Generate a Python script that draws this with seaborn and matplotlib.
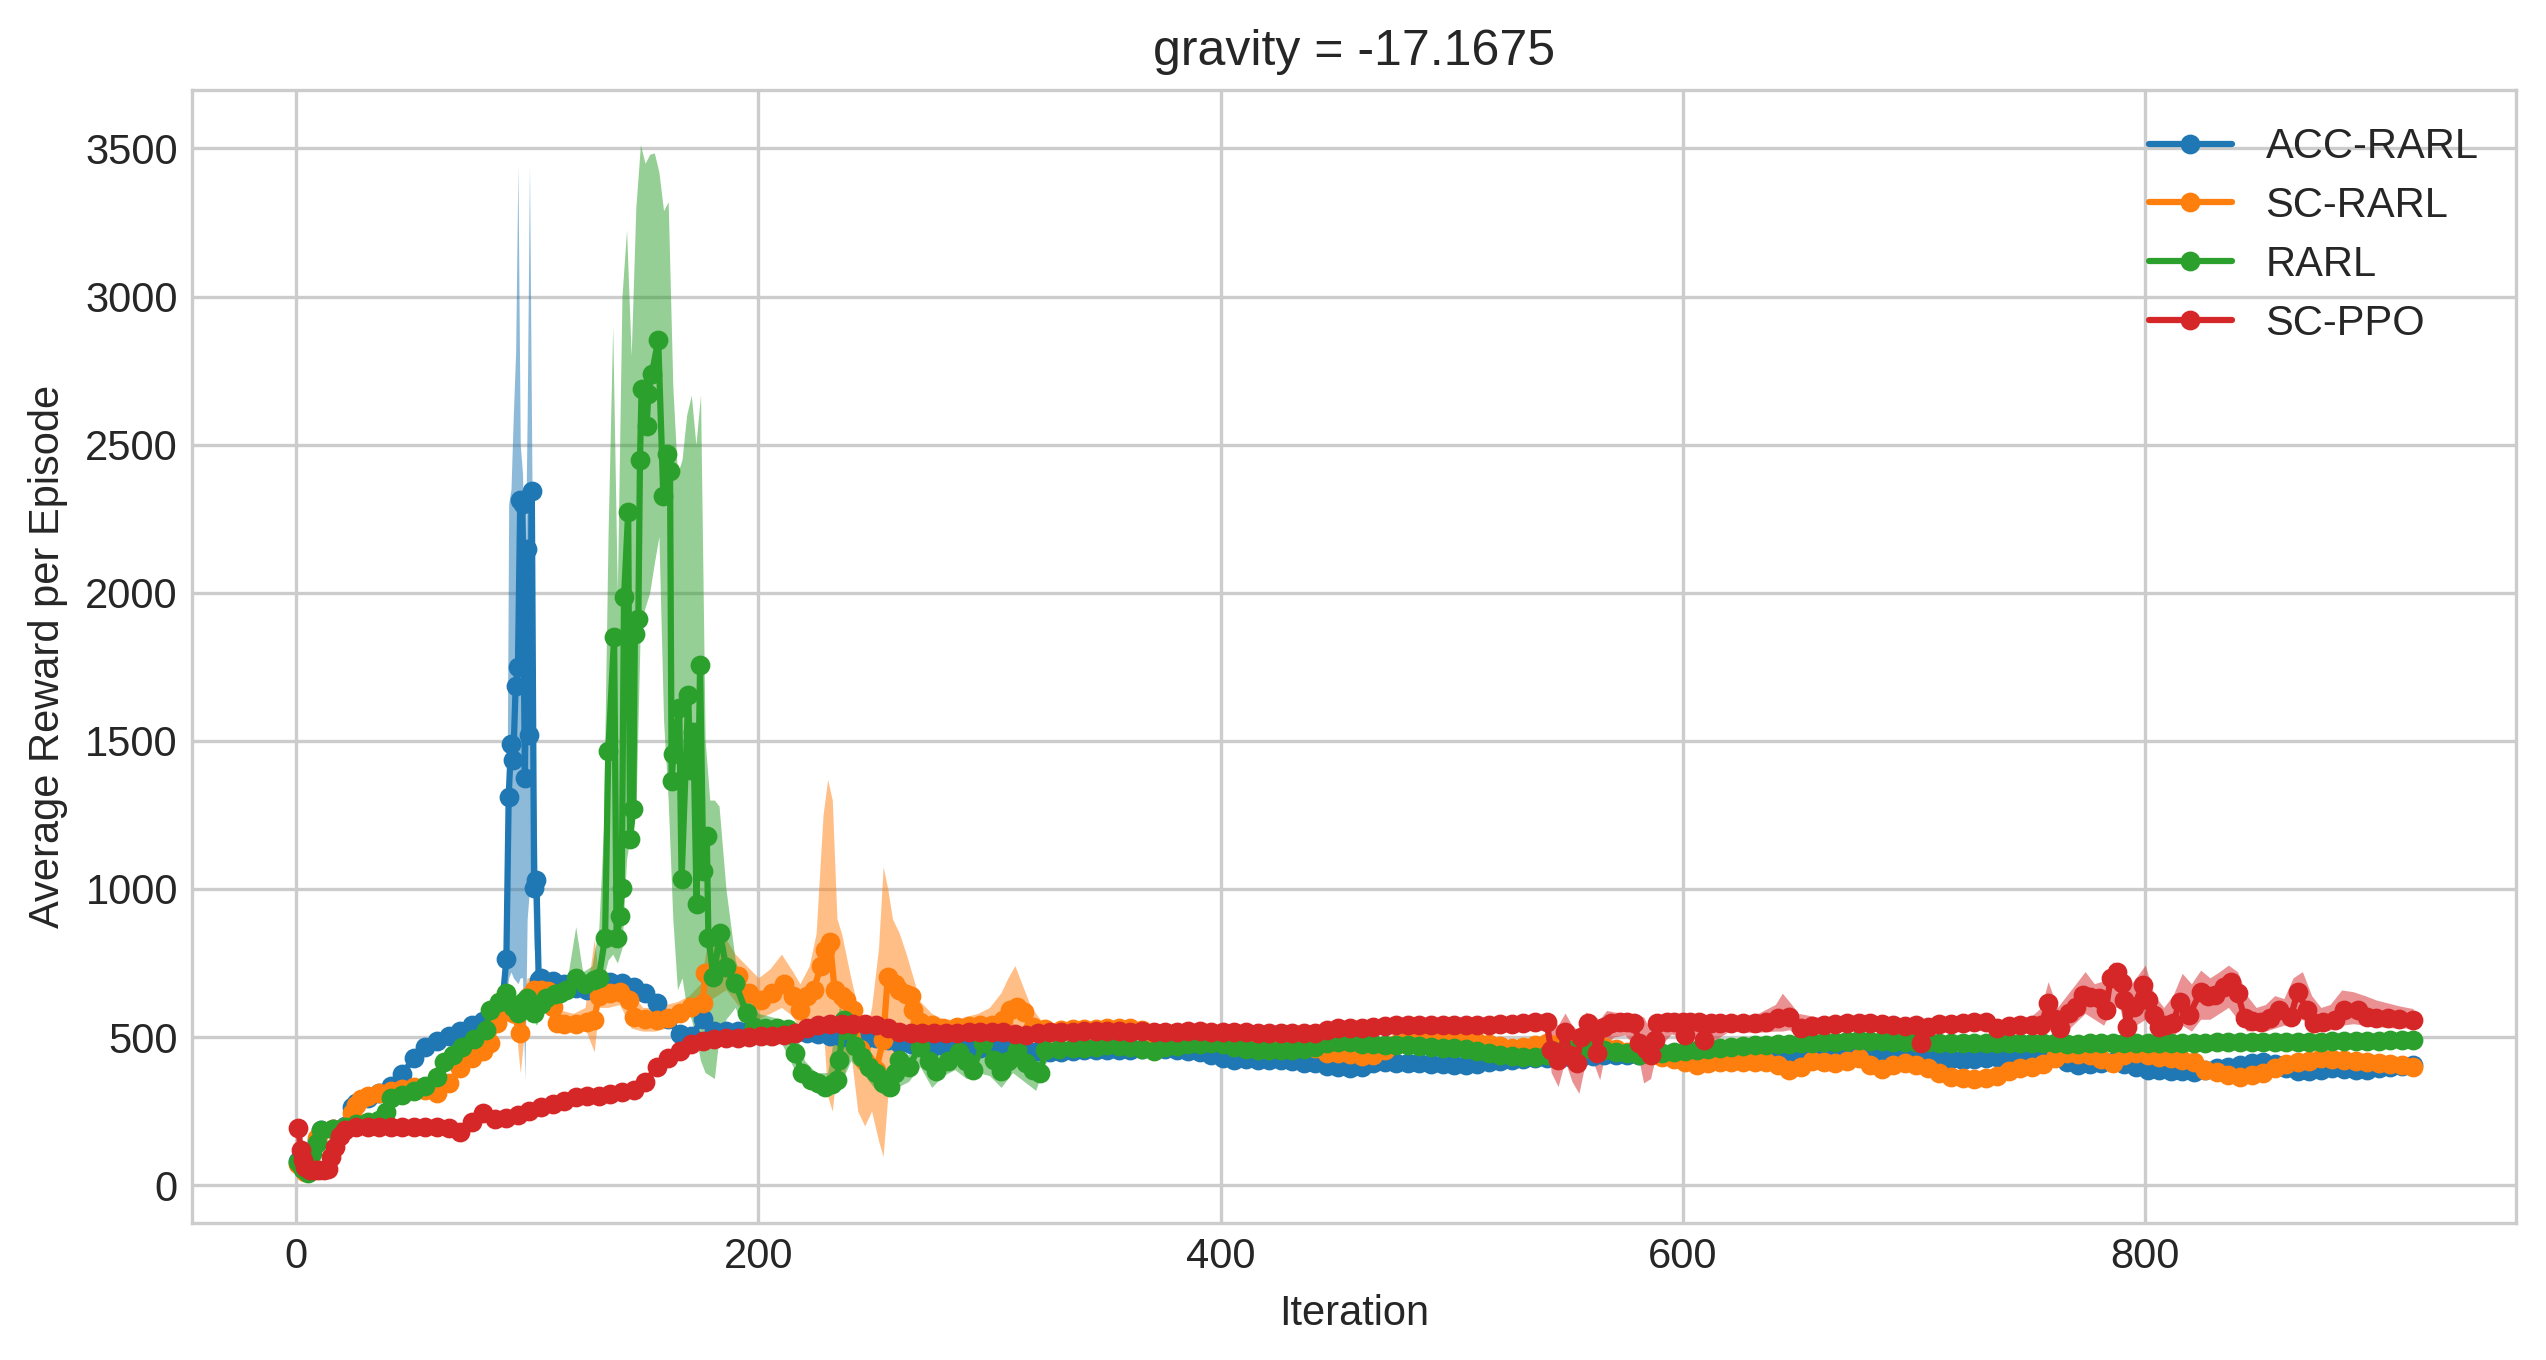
import numpy as np
import matplotlib
matplotlib.use("Agg")
import matplotlib.pyplot as plt
import seaborn as sns

sns.set_style("whitegrid")
plt.rcParams["font.family"] = ["Liberation Sans", "DejaVu Sans"]

TITLE = "gravity = -17.1675"
LABELS = ["ACC-RARL", "SC-RARL", "RARL", "SC-PPO"]

# ---------------- ACC-RARL ----------------
acc_x_early = [1, 3, 6, 9, 11, 16, 21, 24, 26, 31, 36, 41, 46, 51, 56, 61, 66, 71, 76, 81, 86, 89,
               91, 92, 93, 94, 95, 96, 97, 98, 99, 100, 101, 102, 103, 104, 105]
acc_y_early = [80, 55, 110, 150, 185, 190, 200, 265, 278, 295, 310, 335, 375, 430, 465, 485, 505, 520, 540, 555, 570, 590,
               764, 1312, 1488, 1435, 1684, 1750, 2314, 2300, 1374, 2149, 1520, 2345, 1002, 1030, 691]
# every 5 iterations from 106 to 916
acc_y_rest = [700, 690, 680, 665, 660, 675, 685, 682, 670, 648,
              615, 560, 510, 505, 560, 522, 520, 520, 522, 524,
              520, 518, 515, 513, 510, 505, 500, 492, 492, 496,
              490, 480, 475, 473, 470, 468, 465, 463, 462, 462,
              460, 458, 455, 452, 451, 451, 452, 455, 456, 456,
              455, 455, 458, 462, 460, 455, 452, 451, 440, 428,
              423, 425, 422, 424, 423, 418, 412, 411, 402, 398,
              394, 398, 412, 417, 414, 411, 411, 409, 408, 406,
              406, 410, 415, 420, 423, 426, 428, 430, 432, 434,
              434, 436, 440, 440, 440, 441, 442, 442, 443, 444,
              445, 444, 442, 440, 440, 438, 436, 435, 434, 434,
              438, 443, 445, 444, 442, 440, 440, 439, 438, 436,
              434, 430, 426, 422, 425, 430, 432, 428, 432, 438,
              440, 438, 415, 406, 410, 413, 417, 410, 400, 390,
              388, 386, 384, 383, 388, 395, 400, 405, 412, 417,
              410, 395, 384, 386, 390, 394, 392, 390, 389, 395,
              400, 403, 405]
acc_band_x = [88, 90, 91, 92, 93, 94, 95, 96, 97, 98, 99, 100, 101, 102, 103, 104, 105, 106, 108]
acc_band_lo = [560, 570, 640, 700, 720, 700, 690, 680, 700, 700, 355, 900, 1000, 1100, 800, 750, 660, 680, 680]
acc_band_hi = [580, 610, 900, 2300, 2350, 2600, 2810, 3441, 2500, 2400, 2000, 2600, 3441, 2450, 1500, 1200, 720, 720, 700]

# ---------------- SC-RARL ----------------
sc_x_early = [1, 4, 6, 9, 11, 16, 21, 24, 26, 28, 31, 36, 41, 46, 51, 56, 61, 66, 71, 76,
              81, 84, 87, 89, 91, 94, 97, 99, 101, 103, 106, 109, 111, 113, 116, 121, 126, 129, 131, 136,
              140, 144, 146, 151, 156, 161, 166, 171, 176, 177, 181, 186, 191, 196, 201, 206, 211, 215, 218, 221,
              224, 227, 229, 231, 233, 236, 238, 241, 244, 246, 249, 251, 254, 256, 259, 261, 264, 266, 267, 270,
              275, 280, 286, 291, 296, 301, 306, 309, 312, 315, 319, 324, 331]
sc_y_early = [70, 45, 90, 160, 182, 188, 195, 243, 270, 290, 300, 310, 318, 325, 333, 322, 312, 345, 395, 430,
              452, 480, 546, 591, 600, 580, 513, 600, 640, 659, 660, 655, 600, 546, 545, 545, 552, 558, 640, 650,
              653, 625, 569, 560, 558, 565, 580, 600, 614, 715, 725, 738, 705, 650, 625, 650, 680, 640, 591, 640,
              659, 740, 794, 822, 659, 640, 625, 591, 460, 420, 400, 390, 490, 704, 680, 659, 645, 637, 591, 552,
              540, 530, 535, 538, 540, 541, 558, 591, 600, 586, 535, 528, 524]
# every 5 iterations from 336 to 916
sc_y_rest = [526, 528, 528, 530, 530, 530, 525, 510, 500, 495,
             492, 490, 490, 491, 490, 490, 490, 490, 490, 488,
             480, 462, 447, 445, 443, 436, 440, 455, 475, 490,
             496, 495, 490, 487, 485, 483, 478, 470, 462, 465,
             472, 479, 478, 475, 472, 470, 468, 460, 450, 445,
             440, 432, 426, 415, 406, 412, 417, 417, 415, 417,
             415, 405, 390, 400, 420, 415, 411, 420, 428, 405,
             392, 405, 411, 406, 395, 378, 366, 362, 360, 361,
             370, 385, 394, 400, 408, 430, 445, 442, 440, 425,
             411, 440, 445, 440, 432, 428, 424, 415, 390, 383,
             372, 366, 372, 380, 395, 408, 415, 420, 428, 426,
             424, 420, 417, 412, 408, 404, 400]
sc_band_x = [85, 90, 95, 97, 100, 105, 110, 115, 120, 125, 129, 131, 135, 140, 145, 150, 155, 160, 165, 170,
             175, 178, 182, 186, 190, 195, 200, 205, 210, 215, 218, 222, 225, 228, 230, 232, 234, 236, 240, 243,
             246, 249, 252, 254, 256, 258, 261, 264, 267, 270, 275, 280, 285, 290, 295, 300, 305, 308, 311, 314,
             318, 322, 326, 330]
sc_band_lo = [520, 560, 540, 380, 600, 620, 600, 520, 520, 530, 450, 600, 600, 610, 530, 520, 520, 530, 550, 570,
              590, 620, 640, 660, 620, 570, 560, 580, 600, 570, 520, 560, 500, 550, 300, 250, 400, 350, 450, 250,
              200, 250, 150, 96, 300, 400, 500, 450, 450, 480, 500, 500, 510, 510, 510, 500, 520, 540, 540, 520,
              500, 500, 500, 510]
sc_band_hi = [580, 640, 620, 600, 700, 700, 700, 590, 580, 600, 830, 700, 700, 700, 650, 600, 600, 610, 620, 640,
              680, 820, 850, 830, 780, 740, 700, 730, 780, 720, 680, 740, 850, 1250, 1370, 1300, 900, 850, 700, 600,
              500, 600, 800, 1075, 1000, 900, 850, 780, 700, 620, 580, 560, 560, 570, 580, 600, 650, 700, 741, 680,
              600, 560, 550, 545]

# ---------------- RARL ----------------
rarl_x_early = [1, 3, 5, 7, 9, 11, 16, 21, 26, 31, 36, 39, 41, 46, 51, 56, 61, 64, 68, 72,
                77, 82, 84, 88, 91, 94, 96, 98, 100, 103, 106, 108, 112, 114, 117, 121, 125, 129, 131]
rarl_y_early = [79, 55, 40, 108, 141, 186, 190, 197, 205, 212, 220, 248, 293, 305, 319, 335, 366, 417, 440, 468,
                495, 525, 591, 620, 648, 600, 580, 620, 631, 580, 610, 631, 645, 648, 659, 700, 680, 693, 700]
rarl_x_spike = [133.7, 135.1, 137.6, 138.7, 140.2, 140.9, 141.9, 143.7, 144.5, 145.9,
                146.6, 148.1, 148.8, 149.5, 151.7, 152.4, 153.9, 156.7, 158.9, 160.4,
                161.8, 162.5, 163.2, 165.8, 166.8, 169.7, 170.5, 171.9, 173.3, 174.8,
                176.2, 177.7, 178.4, 180.6, 183.4]
rarl_y_spike = [836, 1467, 1849, 836, 909, 1004, 1984, 2273, 1167, 1270,
                1860, 1911, 2449, 2687, 2563, 2670, 2738, 2852, 2325, 2470,
                2410, 1363, 1457, 1611, 1033, 1654, 1400, 1530, 950, 1756,
                1060, 1180, 836, 702, 850]
rarl_x_mid = [186, 190, 195, 198, 203, 208, 213, 216, 219, 223, 226, 229, 232, 234, 235, 237, 239, 242, 245, 248,
              251, 254, 257, 259, 261, 265, 270, 274, 277, 282, 287, 290, 293, 297, 302, 305, 308, 312, 316, 319,
              322, 324, 330]
rarl_y_mid = [738, 682, 580, 535, 532, 530, 526, 445, 378, 355, 345, 332, 340, 355, 423, 558, 524, 470, 434, 400,
              378, 345, 332, 380, 423, 400, 468, 420, 384, 420, 451, 420, 389, 479, 423, 384, 420, 456, 411, 390,
              378, 456, 460]
# every 5 iterations from 336 to 916
rarl_y_rest = [462, 463, 465, 472, 470, 465, 460, 452, 465, 470,
               475, 478, 479, 475, 465, 458, 456, 456, 456, 457,
               458, 468, 480, 484, 482, 478, 476, 474, 473, 472,
               470, 466, 463, 462, 458, 452, 445, 440, 437, 434,
               434, 440, 448, 455, 456, 458, 455, 450, 445, 440,
               442, 445, 449, 452, 455, 458, 462, 468, 470, 472,
               474, 476, 478, 479, 480, 482, 484, 488, 490, 488,
               486, 484, 484, 483, 482, 481, 480, 479, 479, 479,
               480, 480, 479, 479, 479, 479, 478, 478, 479, 479,
               480, 480, 480, 480, 480, 480, 481, 481, 481, 482,
               482, 482, 482, 482, 483, 483, 484, 484, 484, 485,
               485, 486, 487, 488, 489, 490, 490]
rarl_band_x = [86, 89, 92, 96, 100, 104, 108, 112, 117, 121, 124, 128, 131, 133, 135, 137, 139, 141, 143, 145,
               147, 149, 151, 153, 155, 157, 159, 161, 163, 165, 167, 169, 171, 173, 175, 177, 179, 181, 183, 186,
               190, 195, 200, 205, 210, 215, 220, 225, 230, 235, 240, 245, 250, 255, 260, 265, 270, 275, 280, 285,
               290, 295, 300, 305, 310, 315, 320, 324, 328]
rarl_band_lo = [560, 600, 600, 560, 600, 540, 600, 620, 640, 680, 660, 660, 650, 700, 760, 780, 750, 800, 1100, 1200,
                1250, 1900, 1950, 2000, 2100, 2190, 1570, 1300, 900, 660, 700, 600, 560, 500, 420, 380, 370, 360, 500, 560,
                600, 500, 480, 470, 480, 400, 330, 320, 310, 330, 420, 380, 330, 300, 330, 350, 400, 330, 370, 390,
                360, 380, 370, 330, 380, 350, 320, 410, 440]
rarl_band_hi = [600, 690, 680, 620, 660, 620, 660, 670, 680, 873, 720, 740, 870, 1200, 2200, 2900, 2000, 3000, 3225, 2800,
                3300, 3513, 3450, 3480, 3485, 3420, 3290, 3320, 2700, 2400, 2450, 2600, 2667, 2500, 2667, 1500, 1300, 1300, 1280, 1000,
                760, 640, 580, 570, 560, 540, 420, 380, 380, 600, 560, 480, 420, 380, 450, 440, 500, 440, 460, 480,
                460, 500, 470, 430, 480, 450, 440, 480, 480]

# ---------------- SC-PPO ----------------
ppo_x_early = [1, 2, 3, 4, 6, 8, 10, 12, 14, 15, 17, 19, 21]
ppo_y_early = [192, 119, 85, 60, 52, 50, 50, 52, 55, 96, 130, 165, 186]
# every 5 iterations from 26 to 536
ppo_y_mid = [195, 197, 197, 198, 198, 198, 198, 197, 193, 180,
             212, 245, 222, 228, 238, 250, 265, 275, 285, 298,
             300, 302, 308, 314, 322, 348, 398, 428, 452, 476,
             486, 492, 496, 498, 500, 502, 505, 508, 515, 530,
             540, 543, 545, 545, 543, 542, 530, 516, 512, 512,
             513, 514, 515, 516, 517, 518, 518, 510, 506, 512,
             516, 518, 518, 519, 519, 520, 519, 518, 519, 518,
             518, 518, 519, 519, 518, 517, 516, 516, 515, 515,
             514, 514, 513, 513, 524, 530, 531, 532, 535, 537,
             540, 541, 541, 541, 542, 541, 541, 541, 542, 543,
             545, 548, 552]
ppo_x_late = [541, 543, 546, 549, 551, 554, 556, 559, 561, 563, 566, 569, 573, 576, 579, 581, 584, 586, 588, 589,
              593, 596, 600, 601, 603, 607, 609, 612, 616, 621, 626, 631, 636, 641, 646, 651, 656, 661, 666, 671,
              676, 681, 686, 691, 696, 701, 703, 706, 711, 716, 721, 726, 731, 736, 741, 746, 751, 755, 758, 761,
              763, 767, 770, 773, 776, 780, 783, 785, 788, 790, 791, 792, 795, 799, 801, 804, 806, 809, 812, 815,
              819, 824, 827, 830, 834, 837, 840, 843, 846, 850, 854, 858, 863, 866, 870, 873, 877, 882, 886, 892,
              896, 900, 905, 910, 916]
ppo_y_late = [552, 456, 423, 518, 440, 411, 500, 546, 520, 445, 535, 548, 552, 550, 546, 479, 460, 440, 490, 547,
              550, 552, 552, 507, 550, 552, 490, 547, 548, 547, 548, 547, 550, 565, 568, 530, 538, 541, 545, 546,
              548, 547, 545, 540, 538, 541, 479, 535, 543, 545, 548, 550, 550, 532, 538, 540, 541, 541, 614, 560,
              530, 580, 600, 642, 635, 631, 591, 698, 721, 682, 625, 535, 602, 676, 625, 574, 535, 540, 546, 620,
              574, 653, 640, 642, 670, 687, 648, 563, 555, 552, 565, 591, 569, 653, 591, 546, 550, 557, 591, 591,
              569, 565, 563, 560, 557]
ppo_band_x = [536, 541, 543, 546, 549, 552, 555, 558, 561, 564, 567, 570, 575, 580, 583, 586, 589, 595, 600, 605,
              610, 620, 630, 640, 643, 646, 650, 660, 670, 680, 690, 700, 710, 720, 730, 735, 740, 750, 755, 758,
              762, 766, 770, 774, 778, 782, 786, 789, 792, 796, 800, 804, 808, 812, 816, 820, 824, 828, 832, 836,
              840, 844, 848, 852, 856, 860, 864, 868, 872, 876, 880, 885, 890, 895, 900, 905, 910, 916]
ppo_band_lo = [540, 530, 380, 333, 420, 350, 310, 420, 420, 356, 470, 500, 507, 460, 345, 360, 460, 510, 500, 505,
               470, 520, 515, 520, 520, 525, 500, 515, 520, 525, 520, 480, 520, 525, 530, 510, 515, 520, 520, 530,
               505, 520, 550, 580, 560, 540, 600, 600, 507, 540, 560, 520, 505, 501, 540, 520, 560, 560, 580, 600,
               560, 520, 524, 520, 530, 540, 550, 560, 530, 524, 524, 540, 545, 540, 535, 532, 530, 530]
ppo_band_hi = [560, 575, 560, 540, 581, 540, 520, 585, 570, 560, 590, 585, 580, 575, 568, 520, 575, 578, 580, 575,
               575, 572, 570, 610, 648, 620, 580, 565, 565, 568, 562, 560, 565, 568, 570, 560, 560, 565, 600, 687,
               600, 640, 680, 721, 680, 690, 754, 745, 660, 700, 743, 640, 600, 640, 715, 680, 726, 700, 720, 743,
               720, 640, 600, 610, 640, 630, 700, 721, 640, 600, 610, 659, 653, 640, 625, 615, 605, 596]

acc_x = acc_x_early + list(range(106, 106 + 5 * len(acc_y_rest), 5))
acc_y = acc_y_early + acc_y_rest
sc_x = sc_x_early + list(range(336, 336 + 5 * len(sc_y_rest), 5))
sc_y = sc_y_early + sc_y_rest
rarl_x = rarl_x_early + rarl_x_spike + rarl_x_mid + list(range(336, 336 + 5 * len(rarl_y_rest), 5))
rarl_y = rarl_y_early + rarl_y_spike + rarl_y_mid + rarl_y_rest
ppo_x = ppo_x_early + list(range(26, 26 + 5 * len(ppo_y_mid), 5)) + ppo_x_late
ppo_y = ppo_y_early + ppo_y_mid + ppo_y_late

series = [
    (acc_x, acc_y, acc_band_x, acc_band_lo, acc_band_hi),
    (sc_x, sc_y, sc_band_x, sc_band_lo, sc_band_hi),
    (rarl_x, rarl_y, rarl_band_x, rarl_band_lo, rarl_band_hi),
    (ppo_x, ppo_y, ppo_band_x, ppo_band_lo, ppo_band_hi),
]
colors = sns.color_palette("tab10")

fig, ax = plt.subplots(figsize=(2546 / 300, 1360 / 300), dpi=300)
fig.subplots_adjust(left=0.0756, right=0.9882, bottom=0.1009, top=0.934)

for (x, y, bx, lo, hi), name, c in zip(series, LABELS, colors):
    assert len(x) == len(y), name
    assert len(bx) == len(lo) == len(hi), name
    ax.fill_between(bx, lo, hi, color=c, alpha=0.5, linewidth=0)
    sns.lineplot(x=x, y=y, ax=ax, color=c, marker=".", markersize=7.5,
                 markeredgecolor=c, markeredgewidth=1.0, linewidth=1.5,
                 label=name, sort=False, errorbar=None)

ax.set_xlim(-44.8, 960.4)
ax.set_ylim(-127, 3698)
ax.set_title(TITLE, fontsize=12)
ax.set_xlabel("Iteration", fontsize=10)
ax.set_ylabel("Average Reward per Episode", fontsize=10)
ax.tick_params(labelsize=10, length=0)
ax.legend(loc="upper right", frameon=False, fontsize=10, labelspacing=0.45)

fig.savefig("out.png", dpi=300)
